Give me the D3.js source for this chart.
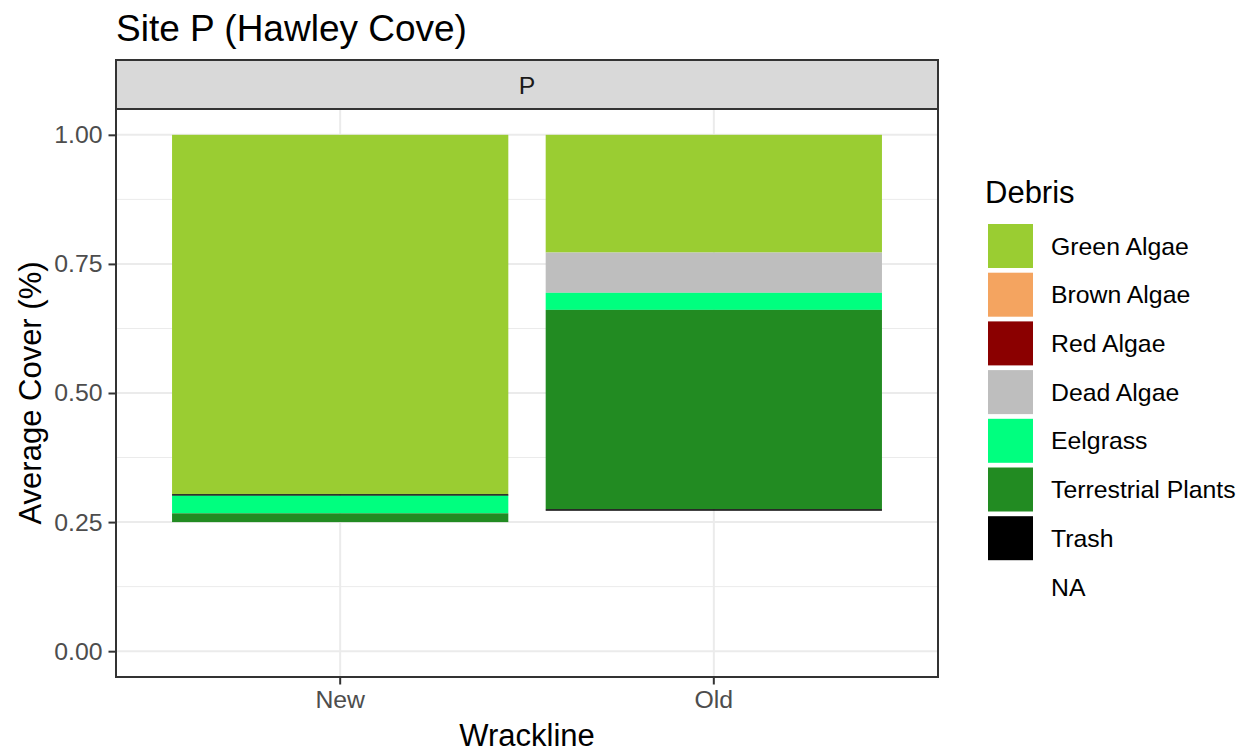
<!DOCTYPE html>
<html><head><meta charset="utf-8">
<script src="https://cdn.jsdelivr.net/npm/d3@7"></script>
<style>body{margin:0;background:#fff}svg{display:block}text{font-family:"Liberation Sans",Arial,sans-serif}</style>
</head><body><svg id="c" width="1250" height="755"></svg>
<script>
const wracklines = ["New", "Old"];
const debrisLevels = ["Green Algae","Brown Algae","Red Algae","Dead Algae","Eelgrass","Terrestrial Plants","Trash","NA"];
const debrisColors = ["#9ACD32","#F4A460","#8B0000","#BEBEBE","#00FF7F","#228B22","#000000","none"];
// stacked segments, listed from the top of each bar downward
const newDebris = ["Green Algae","Trash","Eelgrass","Terrestrial Plants","NA"];
const newValues = [0.696, 0.003, 0.034, 0.017, 0.25];
const oldDebris = ["Green Algae","Dead Algae","Eelgrass","Terrestrial Plants","Trash","NA"];
const oldValues = [0.228, 0.078, 0.033, 0.386, 0.003, 0.272];
const yTicks = [0, 0.25, 0.5, 0.75, 1.0];
const yMinor = [0.125, 0.375, 0.625, 0.875];

const svg = d3.select("#c");
const P = {l:116, r:938, t:109, b:677};
const color = d3.scaleOrdinal(debrisLevels, debrisColors);
const x = d3.scaleBand(wracklines, [P.l, P.r]).paddingInner(0.1).paddingOuter(0.15);
const y = d3.scaleLinear([-0.05, 1.05], [P.b, P.t]);

// title
svg.append("text").attr("x", 116).attr("y", 41).attr("font-size", 37).attr("fill", "#000").text("Site P (Hawley Cove)");

// panel background & grid
svg.append("rect").attr("x", P.l).attr("y", P.t).attr("width", P.r-P.l).attr("height", P.b-P.t).attr("fill", "#fff");
svg.append("g").selectAll("line").data(yMinor).join("line")
  .attr("x1", P.l).attr("x2", P.r).attr("y1", d=>y(d)).attr("y2", d=>y(d))
  .attr("stroke", "#EBEBEB").attr("stroke-width", 1);
svg.append("g").selectAll("line").data(yTicks).join("line")
  .attr("x1", P.l).attr("x2", P.r).attr("y1", d=>y(d)).attr("y2", d=>y(d))
  .attr("stroke", "#EBEBEB").attr("stroke-width", 2);
svg.append("g").selectAll("line").data(wracklines).join("line")
  .attr("y1", P.t).attr("y2", P.b).attr("x1", d=>x(d)+x.bandwidth()/2).attr("x2", d=>x(d)+x.bandwidth()/2)
  .attr("stroke", "#EBEBEB").attr("stroke-width", 2);

// bars
function stackRows(w, names, vals) {
  let top = 1;
  return names.map((n, i) => { const r = {w, debris:n, y1:top, y0:top-vals[i]}; top -= vals[i]; return r; });
}
const rows = stackRows("New", newDebris, newValues).concat(stackRows("Old", oldDebris, oldValues));
svg.append("g").selectAll("rect").data(rows.filter(r=>r.debris!=="NA")).join("rect")
  .attr("x", d=>x(d.w)).attr("width", x.bandwidth())
  .attr("y", d=>y(d.y1)).attr("height", d=>y(d.y0)-y(d.y1))
  .attr("fill", d=>color(d.debris));

// panel border
svg.append("rect").attr("x", P.l).attr("y", P.t).attr("width", P.r-P.l).attr("height", P.b-P.t)
  .attr("fill", "none").attr("stroke", "#333333").attr("stroke-width", 2);

// strip
svg.append("rect").attr("x", P.l).attr("y", 60).attr("width", P.r-P.l).attr("height", P.t-60)
  .attr("fill", "#D9D9D9").attr("stroke", "#333333").attr("stroke-width", 2);
svg.append("text").attr("x", (P.l+P.r)/2).attr("y", 85).attr("dy", "0.35em").attr("text-anchor", "middle")
  .attr("font-size", 24.8).attr("fill", "#1A1A1A").text("P");

// axes
const yAxis = svg.append("g").attr("transform", `translate(${P.l},0)`)
  .call(d3.axisLeft(y).tickValues(yTicks).tickFormat(d3.format(".2f")).tickSize(7.5).tickPadding(6));
yAxis.select(".domain").remove();
yAxis.selectAll("line").attr("stroke", "#333333").attr("stroke-width", 2);
yAxis.selectAll("text").attr("font-size", 24.8).attr("fill", "#4D4D4D").attr("font-family", "Liberation Sans, Arial, sans-serif");

const xAxis = svg.append("g").attr("transform", `translate(0,${P.b})`)
  .call(d3.axisBottom(x).tickSize(7.5).tickPadding(6));
xAxis.select(".domain").remove();
xAxis.selectAll("line").attr("stroke", "#333333").attr("stroke-width", 2);
xAxis.selectAll("text").attr("font-size", 24.8).attr("fill", "#4D4D4D").attr("font-family", "Liberation Sans, Arial, sans-serif");

svg.append("text").attr("x", (P.l+P.r)/2).attr("y", 746).attr("text-anchor", "middle")
  .attr("font-size", 31).attr("fill", "#000").text("Wrackline");
svg.append("text").attr("transform", `translate(41,${(P.t+P.b)/2}) rotate(-90)`).attr("text-anchor", "middle")
  .attr("font-size", 31).attr("fill", "#000").text("Average Cover (%)");

// legend
const lg = svg.append("g");
lg.append("text").attr("x", 985).attr("y", 203).attr("font-size", 31).attr("fill", "#000").text("Debris");
const step = 48.7, top0 = 224;
const items = lg.selectAll("g.item").data(debrisLevels).join("g").attr("class", "item")
  .attr("transform", (d,i)=>`translate(988,${top0 + i*step})`);
items.append("rect").attr("width", 45).attr("height", 44).attr("fill", d=>color(d)==="none"?"#fff":color(d));
items.append("text").attr("x", 63).attr("y", 22).attr("dy", "0.35em").attr("font-size", 24.8).attr("fill", "#000").text(d=>d);
</script></body></html>
